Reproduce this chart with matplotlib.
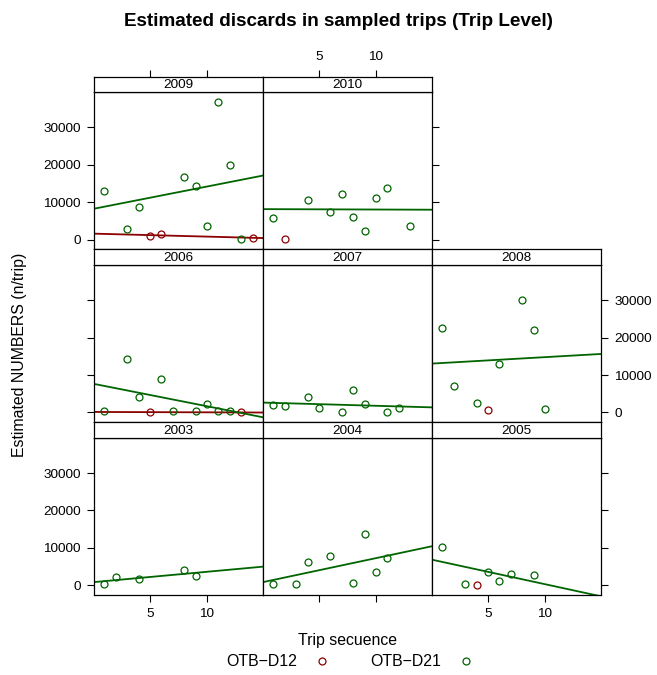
import numpy as np
import matplotlib
matplotlib.use("Agg")
import matplotlib.pyplot as plt
from matplotlib.lines import Line2D

plt.rcParams['font.family'] = ['Liberation Sans', 'DejaVu Sans']

# trip sequence / estimated numbers per year, by metier
seq_d21_2003 = [1, 2, 4, 8, 9]
num_d21_2003 = [350, 2240, 1700, 4040, 2430]

seq_d21_2004 = [1, 3, 4, 6, 8, 9, 10, 11]
num_d21_2004 = [270, 270, 6280, 7900, 620, 13750, 3420, 7360]

seq_d21_2005 = [1, 3, 5, 6, 7, 9]
num_d21_2005 = [10160, 350, 3500, 1260, 2880, 2700]
seq_d12_2005 = [4]
num_d12_2005 = [0]

seq_d21_2006 = [1, 3, 4, 6, 7, 9, 10, 11, 12]
num_d21_2006 = [430, 14250, 4030, 8950, 270, 270, 2230, 430, 350]
seq_d12_2006 = [5, 13]
num_d12_2006 = [80, 0]

seq_d21_2007 = [1, 2, 4, 5, 7, 8, 9, 11, 12]
num_d21_2007 = [1880, 1770, 4190, 1240, 80, 6080, 2230, 80, 1160]

seq_d21_2008 = [1, 2, 4, 6, 8, 9, 10]
num_d21_2008 = [22470, 7150, 2500, 12900, 30190, 22120, 970]
seq_d12_2008 = [5]
num_d12_2008 = [620]

seq_d21_2009 = [1, 3, 4, 8, 9, 10, 11, 12, 13]
num_d21_2009 = [13000, 2850, 8600, 16800, 14400, 3700, 36900, 20000, 190]
seq_d12_2009 = [5, 6, 14]
num_d12_2009 = [880, 1500, 450]

seq_d21_2010 = [1, 4, 6, 7, 8, 9, 10, 11, 13]
num_d21_2010 = [5700, 10670, 7470, 12080, 5950, 2400, 11020, 13700, 3730]
seq_d12_2010 = [2]
num_d12_2010 = [80]

groups = ["OTB\u2212D12", "OTB\u2212D21"]
colors = ["darkred", "darkgreen"]
panel_rows = [[2009, 2010, None], [2006, 2007, 2008], [2003, 2004, 2005]]

data = {
    2003: [([], []), (seq_d21_2003, num_d21_2003)],
    2004: [([], []), (seq_d21_2004, num_d21_2004)],
    2005: [(seq_d12_2005, num_d12_2005), (seq_d21_2005, num_d21_2005)],
    2006: [(seq_d12_2006, num_d12_2006), (seq_d21_2006, num_d21_2006)],
    2007: [([], []), (seq_d21_2007, num_d21_2007)],
    2008: [(seq_d12_2008, num_d12_2008), (seq_d21_2008, num_d21_2008)],
    2009: [(seq_d12_2009, num_d12_2009), (seq_d21_2009, num_d21_2009)],
    2010: [(seq_d12_2010, num_d12_2010), (seq_d21_2010, num_d21_2010)],
}

# common limits, padded like lattice does
all_x = np.concatenate([np.array(s, float) for v in data.values() for s, _ in v])
all_y = np.concatenate([np.array(n, float) for v in data.values() for _, n in v])
pad = 0.07
xr = all_x.max() - all_x.min()
yr = all_y.max() - all_y.min()
xlim = (all_x.min() - pad * xr, all_x.max() + pad * xr)
ylim = (all_y.min() - pad * yr, all_y.max() + pad * yr)
yticks = [0, 10000, 20000, 30000]
xticks = [5, 10]

W, H = 657, 675
fig = plt.figure(figsize=(W / 100, H / 100), dpi=100)


def px_axes(x0, y0, w, h):
    return fig.add_axes([x0 / W, 1 - (y0 + h) / H, w / W, h / H])


left, col_w = 94, 169
top, row_h, strip_h = 76.5, 172.8, 15.5
fs_axis = 9.7
fs_lab = 11.4
tick_kw = dict(direction='out', length=5, width=0.8, pad=4.5, labelsize=fs_axis)

for r, row in enumerate(panel_rows):
    last_col = max(c for c, yr_ in enumerate(row) if yr_ is not None)
    for c, year in enumerate(row):
        if year is None:
            continue
        x0 = left + c * col_w
        y0 = top + r * row_h
        ax = px_axes(x0, y0 + strip_h, col_w, row_h - strip_h)
        st = px_axes(x0, y0, col_w, strip_h)

        for (xs, ys), col in zip(data[year], colors):
            if len(xs) == 0:
                continue
            ax.plot(xs, ys, 'o', mfc='none', mec=col, ms=5, mew=0.9)
            if len(xs) > 1:
                b, a = np.polyfit(xs, ys, 1)
                lx = np.array(xlim)
                ax.plot(lx, a + b * lx, color=col, lw=1.3)

        ax.set_xlim(xlim)
        ax.set_ylim(ylim)
        ax.set_xticks(xticks)
        ax.set_xticklabels([str(t) for t in xticks])
        ax.set_yticks(yticks)
        ax.set_yticklabels([str(t) for t in yticks])
        for sp in ax.spines.values():
            sp.set_linewidth(0.9)

        ax.tick_params(axis='y', left=(c == 0), labelleft=(c == 0 and r != 1),
                       right=(c == last_col), labelright=(c == last_col and r == 1),
                       **tick_kw)
        ax.tick_params(axis='x', top=False, labeltop=False,
                       bottom=(r == 2), labelbottom=(r == 2 and c != 1),
                       **tick_kw)

        # strip with the year, top axis drawn on it for the first row
        st.set_xlim(xlim)
        st.set_ylim(0, 1)
        st.set_yticks([])
        st.set_xticks(xticks)
        st.set_xticklabels([str(t) for t in xticks])
        st.tick_params(axis='x', bottom=False, labelbottom=False,
                       top=(r == 0), labeltop=(r == 0 and c == 1), **tick_kw)
        for sp in st.spines.values():
            sp.set_linewidth(0.9)
        st.text(0.5, 0.45, str(year), transform=st.transAxes,
                ha='center', va='center', fontsize=fs_axis)

fig.text(338 / W, 1 - 22 / H, "Estimated discards in sampled trips (Trip Level)",
         ha='center', va='center', fontsize=13.6, fontweight='bold')
fig.text(347.5 / W, 1 - 641 / H, "Trip secuence", ha='center', va='center', fontsize=fs_lab)
fig.text(20 / W, 1 - 355 / H, "Estimated NUMBERS (n/trip)", ha='center', va='center',
         rotation=90, fontsize=fs_lab)

handles = [Line2D([], [], ls='none', marker='o', mfc='none', mec=col, ms=5, mew=0.9)
           for col in colors]
fig.legend(handles, groups, loc='center', bbox_to_anchor=(350 / W, 1 - 662 / H),
           ncol=2, frameon=False, markerfirst=False, fontsize=fs_lab,
           handlelength=1.0, handletextpad=1.1, columnspacing=2.5,
           borderpad=0, borderaxespad=0)

fig.savefig("out.png", dpi=100)
